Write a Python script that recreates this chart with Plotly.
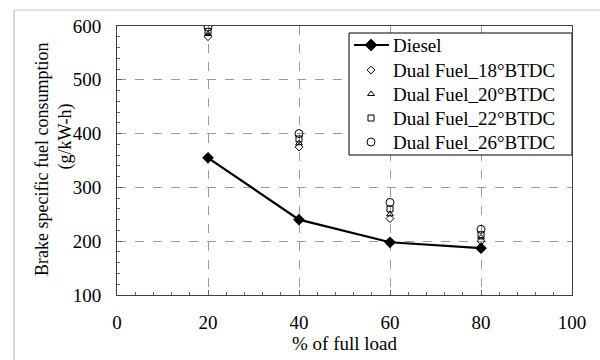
import plotly.graph_objects as go

# % of full load
load = [20, 40, 60, 80]

# Brake specific fuel consumption (g/kW-h)
diesel = [355, 240, 198, 187]
df_18 = [580, 375, 242, 200]
df_20 = [585, 382, 250, 207]
df_22 = [590, 390, 260, 212]
df_26 = [598, 400, 272, 222]

x_ticks = [0, 20, 40, 60, 80, 100]
y_ticks = [100, 200, 300, 400, 500, 600]

series_names = ["Diesel", "Dual Fuel_18°BTDC", "Dual Fuel_20°BTDC",
                "Dual Fuel_22°BTDC", "Dual Fuel_26°BTDC"]

FONT = "Liberation Serif"
W, H = 600, 360
L, R, T, B = 117, 28, 26, 65
PW, PH = W - L - R, H - T - B


def px_x(p):
    return (p - L) / PW


def px_y(p):
    return (H - B - p) / PH


fig = go.Figure()

fig.add_trace(go.Scatter(
    x=load, y=diesel, name=series_names[0], mode="lines+markers",
    line=dict(color="black", width=2.2),
    marker=dict(symbol="diamond", size=9, color="black"),
    showlegend=False,
))

dual_vals = [df_18, df_20, df_22, df_26]
dual_syms = ["diamond-open", "triangle-up-open", "square-open", "circle-open"]
dual_sizes = [6, 6, 6, 8]
for name, vals, sym, sz in zip(series_names[1:], dual_vals, dual_syms, dual_sizes):
    fig.add_trace(go.Scatter(
        x=load, y=vals, name=name, mode="markers",
        marker=dict(symbol=sym, size=sz, color="black",
                    line=dict(color="black", width=1)),
        showlegend=False,
    ))

axis_common = dict(
    showline=True, linecolor="#404040", linewidth=1, mirror=True,
    ticks="inside", ticklen=5, tickcolor="#606060",
    showgrid=True, gridcolor="#9a9a9a", griddash="dash", gridwidth=1,
    zeroline=False,
    tickfont=dict(family=FONT, size=19, color="black"),
)

fig.update_xaxes(
    range=[0, 100], tickvals=x_ticks, ticklabelstandoff=10,
    minor=dict(dtick=4, ticks="inside", ticklen=3, tickcolor="#606060", showgrid=False),
    title=dict(text="% of full load", font=dict(family=FONT, size=19, color="black"),
               standoff=0),
    **axis_common,
)
fig.update_yaxes(
    range=[100, 600], tickvals=y_ticks, ticklabelstandoff=11,
    minor=dict(dtick=20, ticks="inside", ticklen=3, tickcolor="#606060", showgrid=False),
    **axis_common,
)

# y-axis title, two lines
fig.add_annotation(text="Brake specific fuel consumption", textangle=-90,
                   xref="paper", yref="paper", x=px_x(30), y=px_y(160),
                   showarrow=False, font=dict(family=FONT, size=18, color="black"))
fig.add_annotation(text="(g/kW-h)", textangle=-90,
                   xref="paper", yref="paper", x=px_x(52), y=px_y(137),
                   showarrow=False, font=dict(family=FONT, size=18, color="black"))

# legend drawn on a pixel-coordinate overlay axis
fig.update_layout(
    xaxis2=dict(overlaying="x", range=[L, W - R], visible=False, fixedrange=True),
    yaxis2=dict(overlaying="y", range=[H - B, T], visible=False, fixedrange=True),
)
box_x = [349, 572, 572, 349, 349]
box_y = [33, 33, 155, 155, 33]
fig.add_trace(go.Scatter(
    x=box_x, y=box_y, xaxis="x2", yaxis="y2", mode="lines",
    fill="toself", fillcolor="white", line=dict(color="black", width=1),
    hoverinfo="skip", showlegend=False, cliponaxis=False,
))

leg_y = [45, 70, 94, 118, 142]
fig.add_trace(go.Scatter(
    x=[354, 371, 389], y=[leg_y[0]] * 3, xaxis="x2", yaxis="y2",
    mode="lines", line=dict(color="black", width=2.2),
    hoverinfo="skip", showlegend=False, cliponaxis=False,
))
leg_syms = ["diamond"] + dual_syms
leg_sizes = [9] + dual_sizes
for i, (sym, sz) in enumerate(zip(leg_syms, leg_sizes)):
    fig.add_trace(go.Scatter(
        x=[371], y=[leg_y[i]], xaxis="x2", yaxis="y2", mode="markers",
        marker=dict(symbol=sym, size=sz, color="black",
                    line=dict(color="black", width=1)),
        hoverinfo="skip", showlegend=False, cliponaxis=False,
    ))
    fig.add_annotation(text=series_names[i], xref="x2", yref="y2",
                       x=391, y=leg_y[i], xanchor="left", yanchor="middle",
                       showarrow=False,
                       font=dict(family=FONT, size=19, color="black"))

# light frame along the left and top of the figure
fig.add_shape(type="line", xref="paper", yref="paper",
              x0=px_x(14), x1=px_x(14), y0=px_y(365), y1=px_y(10),
              line=dict(color="#b0b0b0", width=1), layer="below")
fig.add_shape(type="line", xref="paper", yref="paper",
              x0=px_x(14), x1=px_x(600), y0=px_y(10), y1=px_y(10),
              line=dict(color="#c8c8c8", width=1), layer="below")

fig.update_layout(
    width=W, height=H,
    margin=dict(l=L, r=R, t=T, b=B),
    paper_bgcolor="white", plot_bgcolor="white",
    font=dict(family=FONT, size=19, color="black"),
    showlegend=False,
)

fig.write_html("out.html")
